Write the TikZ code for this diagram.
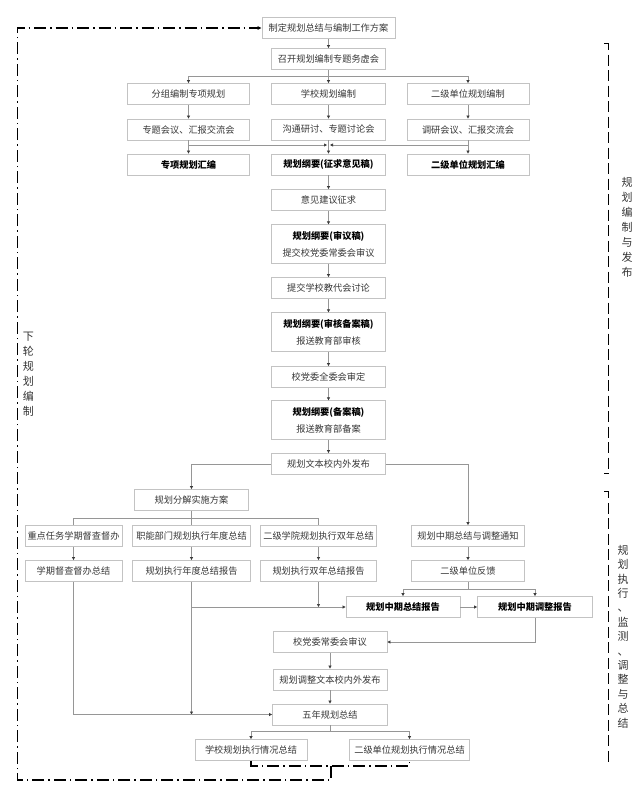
\documentclass[tikz,border=0pt]{standalone}
\usepackage{fontspec}
\setmainfont{Noto Sans CJK SC}
\usetikzlibrary{arrows.meta}
\definecolor{boxgray}{RGB}{195,195,195}
\definecolor{linegray}{RGB}{150,150,150}
\definecolor{tipgray}{RGB}{60,60,60}
\definecolor{textgray}{RGB}{55,55,55}

\begin{document}
\begin{tikzpicture}[x=1pt,y=1pt,yscale=-1,xscale=1,
  box/.style={draw=boxgray,line width=0.8pt,fill=white,minimum width=114pt,minimum height=21pt,inner sep=1pt,font=\fontsize{9.2}{11}\selectfont,text=textgray},
  boldbox/.style={box,font=\fontsize{9.2}{11}\selectfont\bfseries,text=black},
  tallbox/.style={box,minimum height=38.5pt,align=center,font=\fontsize{9.2}{17}\selectfont},
  conn/.style={draw=linegray,line width=0.7pt},
  flow/.style={conn,-{Triangle[length=3pt,width=3pt,color=tipgray]}},
  loopline/.style={line width=1.2pt,black,dash pattern=on 12pt off 4pt on 1.5pt off 4pt},
  bracket/.style={line width=1pt,black,dash pattern=on 11pt off 4.5pt},
  vlabel/.style={align=center,inner sep=0pt,font=\fontsize{11}{15}\selectfont,text=black!80}]
\useasboundingbox (0,0) rectangle (639,796);

%Shape: Rectangle 
\node [box,minimum width=133pt] (plan) at (328.5,28) {制定规划总结与编制工作方案};
\node [box] (kickoff) at (328.5,59) {召开规划编制专题务虚会};
% row of drafts
\node [box,minimum width=122pt] (groupdraft) at (188.5,94) {分组编制专项规划};
\node [box] (schooldraft) at (328.5,94) {学校规划编制};
\node [box,minimum width=122pt] (unitdraft) at (468,94) {二级单位规划编制};
\node [box,minimum width=122pt] (groupmeet) at (188.5,129.5) {专题会议、汇报交流会};
\node [box] (schoolmeet) at (328.5,129.5) {沟通研讨、专题讨论会};
\node [box,minimum width=122pt] (unitmeet) at (468,129.5) {调研会议、汇报交流会};
\node [boldbox,minimum width=122pt] (groupcomp) at (188.5,164.5) {专项规划汇编};
\node [boldbox] (outlinedraft) at (328.5,164.5) {规划纲要(征求意见稿)};
\node [boldbox,minimum width=122pt] (unitcomp) at (468,164.5) {二级单位规划汇编};
% approval chain
\node [box] (advice) at (328.5,200) {意见建议征求};
\node [tallbox] (reviewdraft) at (328.5,244) {{\bfseries\color{black}规划纲要(审议稿)}\\提交校党委常委会审议};
\node [box] (congress) at (328.5,288) {提交学校教代会讨论};
\node [tallbox] (filingreview) at (328.5,332) {{\bfseries\color{black}规划纲要(审核备案稿)}\\报送教育部审核};
\node [box] (fullcommittee) at (328.5,377) {校党委全委会审定};
\node [tallbox] (filed) at (328.5,420) {{\bfseries\color{black}规划纲要(备案稿)}\\报送教育部备案};
\node [box] (publish) at (328.5,464) {规划文本校内外发布};
% execution
\node [box] (breakdown) at (191.5,500) {规划分解实施方案};
\node [box,minimum width=97pt] (taskcheck) at (73.5,536) {重点任务学期督查督办};
\node [box,minimum width=118pt] (deptyear) at (191.5,536) {职能部门规划执行年度总结};
\node [box,minimum width=116pt] (collegebi) at (318.5,536) {二级学院规划执行双年总结};
\node [box,minimum width=113pt] (midnotice) at (468,536) {规划中期总结与调整通知};
\node [box,minimum width=97pt] (checksum) at (73.5,571) {学期督查督办总结};
\node [box,minimum width=118pt] (yearreport) at (191.5,571) {规划执行年度总结报告};
\node [box,minimum width=116pt] (bireport) at (318.5,571) {规划执行双年总结报告};
\node [box,minimum width=113pt] (feedback) at (468,571) {二级单位反馈};
\node [boldbox] (midsum) at (403,607) {规划中期总结报告};
\node [boldbox,minimum width=115pt] (midadjust) at (535,607) {规划中期调整报告};
\node [box] (standing) at (330,642) {校党委常委会审议};
\node [box] (adjpublish) at (330,679.5) {规划调整文本校内外发布};
\node [box,minimum width=115pt] (fiveyear) at (330,714.5) {五年规划总结};
\node [box,minimum width=112pt] (schoolsum) at (251,750) {学校规划执行情况总结};
\node [box,minimum width=120pt] (unitsum) at (409.5,750) {二级单位规划执行情况总结};

% branch points
\coordinate (split1) at (328.5,76);
\coordinate (merge) at (328.5,145);
\coordinate (split5) at (191.5,518.3);
\coordinate (split7) at (468,589.5);
\coordinate (split9) at (330,731.5);
\coordinate (loopmid) at (331,766);
\coordinate (loopcorner) at (17.3,780);

%Straight Lines 
\draw [flow] (plan) -- (kickoff);
\draw [conn] (kickoff) -- (split1);
\draw [flow] (split1) -| (groupdraft.north);
\draw [flow] (split1) -- (schooldraft);
\draw [flow] (split1) -| (unitdraft.north);
\draw [flow] (groupdraft) -- (groupmeet);
\draw [flow] (schooldraft) -- (schoolmeet);
\draw [flow] (unitdraft) -- (unitmeet);
\draw [flow] (groupmeet) -- (groupcomp);
\draw [flow] (schoolmeet) -- (outlinedraft);
\draw [flow] (unitmeet) -- (unitcomp);
\draw [flow] (groupmeet.south) |- ([xshift=-1.5pt]merge);
\draw [flow] (unitmeet.south) |- ([xshift=1.5pt]merge);
\draw [flow] (outlinedraft) -- (advice);
\draw [flow] (advice) -- (reviewdraft);
\draw [flow] (reviewdraft) -- (congress);
\draw [flow] (congress) -- (filingreview);
\draw [flow] (filingreview) -- (fullcommittee);
\draw [flow] (fullcommittee) -- (filed);
\draw [flow] (filed) -- (publish);
\draw [flow] (publish.west) -| (breakdown.north);
\draw [flow] (publish.east) -| (midnotice.north);
\draw [conn] (breakdown) -- (split5) -| (taskcheck.north);
\draw [conn] (split5) -- (deptyear);
\draw [conn] (split5) -| (collegebi.north);
\draw [flow] (taskcheck) -- (checksum);
\draw [flow] (deptyear) -- (yearreport);
\draw [flow] (collegebi) -- (bireport);
\draw [flow] (midnotice) -- (feedback);
\draw [conn] (feedback) -- (split7);
\draw [flow] (split7) -| (midsum.north);
\draw [flow] (split7) -| (midadjust.north);
\draw [flow] (midsum) -- (midadjust);
\draw [flow] (yearreport.south) |- (midsum.west);
\draw [flow] (bireport.south) -- (bireport.south |- midsum.west);
\draw [flow] (yearreport.south) -- (yearreport.south |- fiveyear.west);
\draw [flow] (checksum.south) |- (fiveyear.west);
\draw [flow] (midadjust.south) |- (standing.east);
\draw [flow] (standing) -- (adjpublish);
\draw [flow] (adjpublish) -- (fiveyear);
\draw [conn] (fiveyear) -- (split9);
\draw [flow] (split9) -| (schoolsum.north);
\draw [flow] (split9) -| (unitsum.north);

%Straight Lines: next round loop
\draw [loopline] (schoolsum.south) |- (loopmid) -| (unitsum.south);
\draw [loopline,-{Triangle[length=4pt,width=3.5pt]}] (loopmid) |- (loopcorner) |- (plan.west);

%Shape: Brackets 
\draw [bracket] (604,43.3) -- (608.3,43.3) -- (608.3,473.3) -- (604,473.3);
\draw [bracket] (604,491.7) -- (608.3,491.7) -- (608.3,762) -- (604,762);

% Text Node
\node [vlabel] (nextround) at (28.5,374) {下\\轮\\规\\划\\编\\制};
% Text Node
\node [vlabel] (phaseone) at (627,227) {规\\划\\编\\制\\与\\发\\布};
% Text Node
\node [vlabel,font=\fontsize{11}{14.4}\selectfont] (phasetwo) at (623,636.5) {规\\划\\执\\行\\、\\监\\测\\、\\调\\整\\与\\总\\结};

\end{tikzpicture}
\end{document}
